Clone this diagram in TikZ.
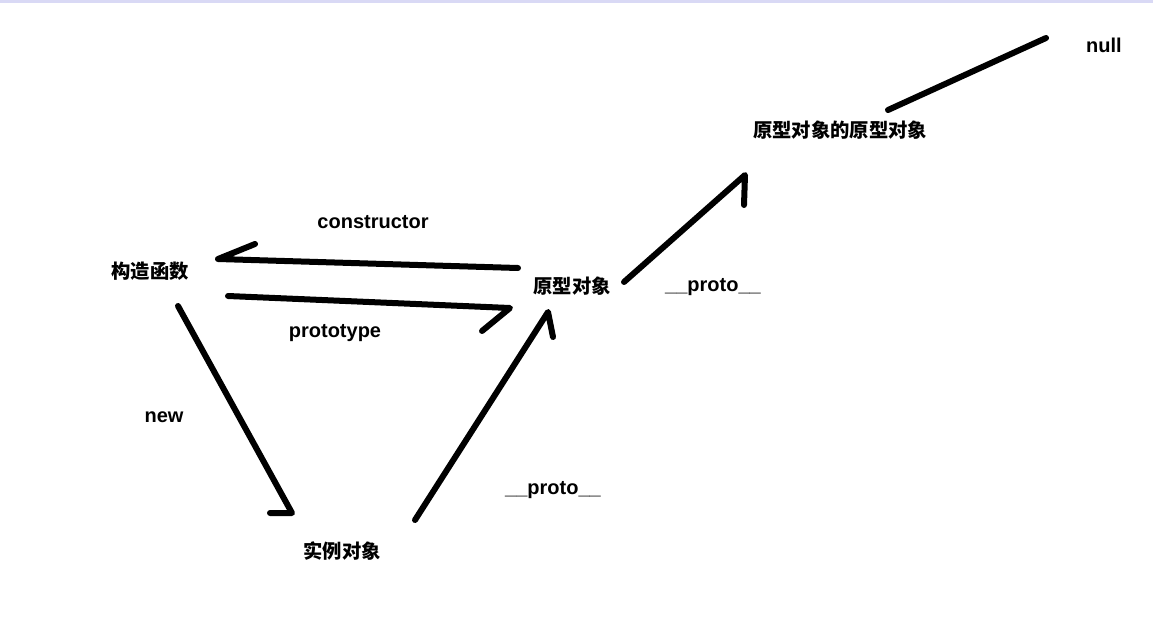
\documentclass[tikz,border=0pt]{standalone}
\usepackage{fontspec}
\setmainfont{Liberation Sans}
\newfontfamily\cjk{Noto Sans CJK SC}
\begin{document}
\begin{tikzpicture}[x=0.75pt,y=-0.75pt]
\tikzset{
  cn/.style={font=\cjk\bfseries\fontsize{14.5}{16}\selectfont, inner sep=1pt},
  lbl/.style={font=\bfseries\fontsize{15}{17}\selectfont, inner sep=1pt},
  stroke/.style={line width=4.5pt, line cap=round, line join=round}
}
\useasboundingbox (0,0) rectangle (1153,625);
\draw[line width=2.5pt, color=black!25!blue!15] (0,1) -- (1153,1);
% nodes
\node[cn] (ctor) at (150,271) {构造函数};
\node[cn] (proto) at (572,286) {原型对象};
\node[cn] (pproto) at (840,130) {原型对象的原型对象};
\node[lbl] (null) at (1104,45) {null};
\node[cn] (inst) at (342,551) {实例对象};
% labels
\node[lbl] at (373,222) {constructor};
\node[lbl] at (335,333) {prototype};
\node[lbl] at (164,417) {new};
\node[lbl] at (553,490) {\_\_proto\_\_};
\node[lbl] at (713,287) {\_\_proto\_\_};
% arrow ends
\coordinate (c1) at (518,268); \coordinate (c2) at (218,259); \coordinate (c3) at (255,244);
\coordinate (p1) at (228,296); \coordinate (p2) at (510,308); \coordinate (p3) at (482,331);
\coordinate (n1) at (178,306); \coordinate (n2) at (292,513); \coordinate (n3) at (270,513);
\coordinate (i1) at (415,520); \coordinate (i2) at (548,312); \coordinate (i3) at (553,337);
\coordinate (u1) at (624,282); \coordinate (u2) at (745,175); \coordinate (u3) at (744,205);
\coordinate (z1) at (888,110); \coordinate (z2) at (1046,38);
% connectors
\draw[stroke] (c1) -- (c2) -- (c3);
\draw[stroke] (p1) -- (p2) -- (p3);
\draw[stroke] (n1) -- (n2) -- (n3);
\draw[stroke] (i1) -- (i2) -- (i3);
\draw[stroke] (u1) -- (u2) -- (u3);
\draw[stroke] (z1) -- (z2);
\end{tikzpicture}
\end{document}
